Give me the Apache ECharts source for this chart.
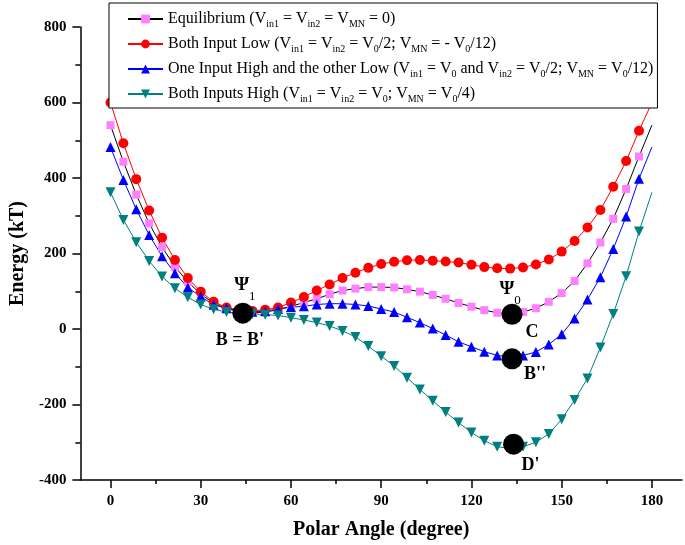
<!DOCTYPE html>
<html>
<head>
<meta charset="utf-8">
<script src="https://cdn.jsdelivr.net/npm/echarts@6/dist/echarts.min.js"></script>
<style>
html,body{margin:0;padding:0;background:#fff;}
#chart{width:685px;height:545px;}
</style>
</head>
<body>
<div id="chart"></div>
<script>
// Polar angle (degree) of each computed point
const angles = [0, 4.29, 8.57, 12.86, 17.14, 21.43, 25.71, 30, 34.29, 38.57, 42.86, 47.14, 51.43, 55.71,
  60, 64.29, 68.57, 72.86, 77.14, 81.43, 85.71, 90, 94.29, 98.57, 102.86, 107.14, 111.43, 115.71,
  120, 124.29, 128.57, 132.86, 137.14, 141.43, 145.71, 150, 154.29, 158.57, 162.86, 167.14, 171.43, 175.71, 180];

// Energy (kT)
const equilibrium = [540, 443, 356, 280, 217, 165, 125, 93, 68, 54, 46, 43, 45, 51,
  60, 70, 80, 92, 102, 107, 111, 111, 110, 105, 99, 90, 80, 69,
  59, 50, 43, 41, 45, 55, 72, 95, 127, 174, 229, 292, 371, 457, 540];
const bothInputLow = [600, 492, 397, 314, 242, 183, 135, 99, 72, 57, 50, 48, 51, 57,
  70, 85, 102, 118, 135, 149, 162, 172, 178, 182, 183, 181, 179, 176,
  170, 164, 161, 160, 163, 171, 184, 205, 233, 269, 315, 377, 445, 525, 600];
const oneHighOtherLow = [482, 395, 317, 249, 193, 148, 110, 86, 64, 55, 48, 46, 47, 53,
  58, 60, 65, 67, 67, 65, 61, 53, 45, 31, 17, 1, -16, -34,
  -47, -60, -70, -74, -70, -61, -41, -14, 28, 78, 137, 212, 298, 398, 482];
const bothInputsHigh = [362, 289, 230, 180, 139, 108, 84, 65, 52, 45, 42, 40, 38, 36,
  30, 24, 17, 8, -5, -21, -45, -72, -98, -129, -160, -190, -220, -248,
  -274, -296, -312, -316, -312, -300, -278, -239, -188, -131, -49, 40, 140, 258, 362];

// Marked states (black dots)
const stateAngles = [44, 133.5, 133.5, 134];
const stateEnergies = [42, 39, -79, -305];
const stateLabels = ["B = B'", "C", "B''", "D'"];
const psiAngles = [44, 133.5];
const psiEnergies = [42, 39];
const psiSubs = ["1", "0"];

// Axis ticks
const xTickValues = [0, 30, 60, 90, 120, 150, 180];
const xMinorTickValues = [15, 45, 75, 105, 135, 165];

const seriesNames = ["Equilibrium", "Both Input Low", "One Input High and the other Low", "Both Inputs High"];
const legendTexts = {
  "Equilibrium": "Equilibrium (V{s|in1} = V{s|in2} = V{s|MN} = 0)",
  "Both Input Low": "Both Input Low (V{s|in1} = V{s|in2} = V{s|0}/2; V{s|MN} = - V{s|0}/12)",
  "One Input High and the other Low": "One Input High and the other Low (V{s|in1} = V{s|0} and V{s|in2} = V{s|0}/2; V{s|MN} = V{s|0}/12)",
  "Both Inputs High": "Both Inputs High (V{s|in1} = V{s|in2} = V{s|0}; V{s|MN} = V{s|0}/4)"
};

const FONT = "'Liberation Serif', 'Times New Roman', serif";

function pts(vals) {
  return vals.map((v, i) => {
    const item = { value: [angles[i], v] };
    if (i === vals.length - 1) item.symbol = 'none';
    return item;
  });
}

function lineSeries(name, vals, symbol, markerColor, lineColor, size) {
  return {
    name: name,
    type: 'line',
    data: pts(vals),
    symbol: symbol,
    symbolSize: size,
    showAllSymbol: true,
    itemStyle: { color: markerColor, opacity: 1 },
    lineStyle: { color: lineColor, width: 1 },
    emphasis: { disabled: true },
    animation: false
  };
}

const chart = echarts.init(document.getElementById('chart'));
const option = {
  animation: false,
  backgroundColor: '#fff',
  grid: { left: 72, right: 3, top: 27, bottom: 65, containLabel: false },
  legend: {
    orient: 'vertical',
    left: 109,
    top: 3,
    data: seriesNames,
    itemWidth: 35,
    itemHeight: 11,
    itemGap: 5,
    padding: [6, 4, 4, 18],
    borderColor: '#000',
    borderWidth: 1,
    backgroundColor: '#fff',
    formatter: name => legendTexts[name],
    textStyle: {
      fontFamily: FONT, fontSize: 16, color: '#000', lineHeight: 20,
      rich: { s: { fontFamily: FONT, fontSize: 10, color: '#000', verticalAlign: 'bottom', lineHeight: 20 } }
    }
  },
  xAxis: [{
    type: 'value', min: -10, max: 190,
    name: 'Polar Angle (degree)', nameLocation: 'middle', nameGap: 40,
    nameTextStyle: { fontFamily: FONT, fontSize: 20, fontWeight: 'bold', color: '#000' },
    axisLine: { show: true, onZero: false, lineStyle: { color: '#000', width: 1.5 } },
    axisTick: { show: true, customValues: xTickValues, length: 8, inside: false, lineStyle: { color: '#000', width: 1.5 } },
    axisLabel: { customValues: xTickValues, margin: 14, fontFamily: FONT, fontSize: 15, fontWeight: 'bold', color: '#000' },
    splitLine: { show: false }
  }, {
    type: 'value', min: -10, max: 190, position: 'bottom', offset: 0,
    axisLine: { show: false, onZero: false },
    axisTick: { show: true, customValues: xMinorTickValues, length: 4, lineStyle: { color: '#000', width: 1.5 } },
    axisLabel: { show: false },
    splitLine: { show: false }
  }],
  yAxis: {
    type: 'value', min: -400, max: 800, interval: 200,
    name: 'Energy (kT)', nameLocation: 'middle', nameGap: 40,
    nameTextStyle: { fontFamily: FONT, fontSize: 20, fontWeight: 'bold', color: '#000' },
    axisLine: { show: true, onZero: false, lineStyle: { color: '#000', width: 1.5 } },
    axisTick: { show: true, length: 8, lineStyle: { color: '#000', width: 1.5 } },
    minorTick: { show: true, splitNumber: 2, length: 5, lineStyle: { color: '#000', width: 1.5 } },
    axisLabel: { margin: 14, fontFamily: FONT, fontSize: 15, fontWeight: 'bold', color: '#000' },
    splitLine: { show: false }
  },
  series: [
    lineSeries(seriesNames[0], equilibrium, 'rect', '#ff80ff', '#000000', 8),
    lineSeries(seriesNames[1], bothInputLow, 'circle', '#ff0000', '#ff0000', 10),
    lineSeries(seriesNames[2], oneHighOtherLow, 'triangle', '#0000ff', '#0000ff', 10),
    lineSeries(seriesNames[3], bothInputsHigh, 'path://M0,0 L10,0 L5,9 Z', '#008080', '#008080', 10),
    {
      name: 'states', type: 'scatter', z: 5,
      symbol: 'circle', symbolSize: 21,
      itemStyle: { color: '#000', opacity: 1 },
      emphasis: { disabled: true },
      data: stateAngles.map((a, i) => ({
        value: [a, stateEnergies[i]],
        label: {
          show: true, position: 'inside',
          offset: [[-3, 27], [20, 18], [23, 16], [17, 21]][i],
          formatter: stateLabels[i],
          fontFamily: FONT, fontSize: 18, fontWeight: 'bold', color: '#000'
        }
      }))
    },
    {
      name: 'psi', type: 'scatter', z: 6,
      symbol: 'circle', symbolSize: 2,
      itemStyle: { color: 'rgba(0,0,0,0)', opacity: 1 },
      emphasis: { disabled: true },
      data: psiAngles.map((a, i) => ({
        value: [a, psiEnergies[i]],
        label: {
          show: true, position: 'inside',
          offset: [[2, -28], [-2, -25]][i],
          formatter: '{p|Ψ}{q|' + psiSubs[i] + '}',
          rich: {
            p: { fontFamily: FONT, fontSize: 19, fontWeight: 'bold', color: '#000', lineHeight: 24, verticalAlign: 'middle' },
            q: { fontFamily: FONT, fontSize: 13, color: '#000', lineHeight: 24, verticalAlign: 'bottom', padding: [0, 0, -6, 0] }
          }
        }
      }))
    }
  ]
};
chart.setOption(option);
</script>
</body>
</html>
